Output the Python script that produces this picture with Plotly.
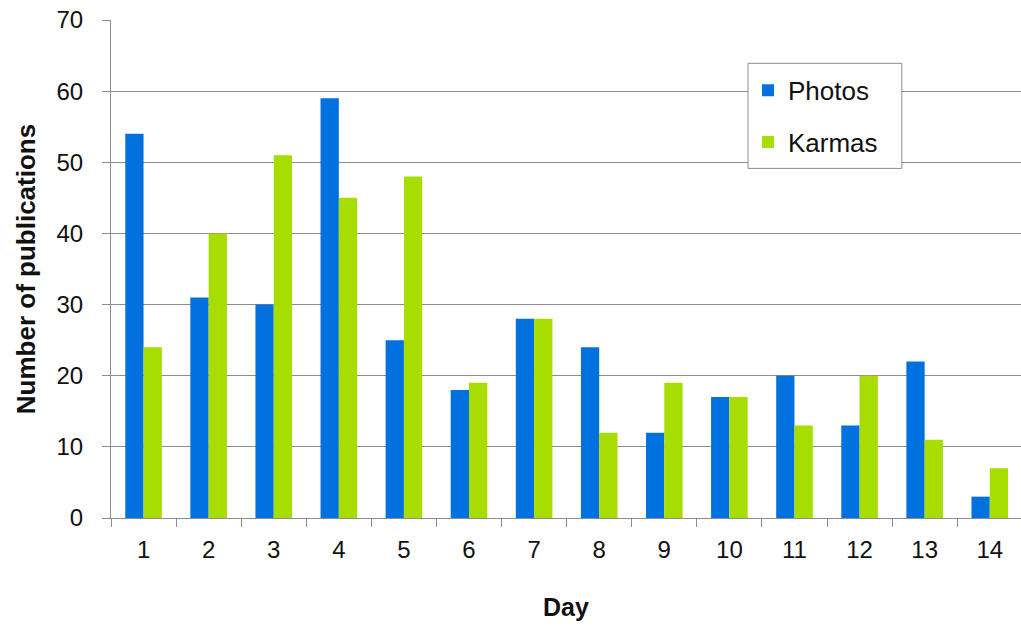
import plotly.graph_objects as go

# Publications per day for the two content types
days = [str(d) for d in range(1, 15)]
photos = [54, 31, 30, 59, 25, 18, 28, 24, 12, 17, 20, 13, 22, 3]
karmas = [24, 40, 51, 45, 48, 19, 28, 12, 19, 17, 13, 20, 11, 7]
y_ticks = [0, 10, 20, 30, 40, 50, 60, 70]

BLUE = "#0071DE"
GREEN = "#A7DD00"
GRID = "#8C8C8C"
FONT = "Liberation Sans, Arial, sans-serif"

fig = go.Figure()
fig.add_trace(go.Bar(x=days, y=photos, name="Photos", marker_color=BLUE,
                     marker_line_width=0, legendgroup="p"))
fig.add_trace(go.Bar(x=days, y=karmas, name="Karmas", marker_color=GREEN,
                     marker_line_width=0, legendgroup="k"))

# framed white panel behind the legend entries
fig.add_shape(type="rect", xref="paper", yref="paper",
              x0=0.700, x1=0.869, y0=0.702, y1=0.913,
              fillcolor="white", line=dict(color="#8C8C8C", width=1),
              layer="above")

fig.update_layout(
    width=1021, height=626,
    margin=dict(l=111, r=0, t=20, b=108),
    paper_bgcolor="white", plot_bgcolor="white",
    barmode="group", bargap=0.438, bargroupgap=0,
    font=dict(family=FONT, size=24, color="#111"),
    legend=dict(
        x=0.700, y=0.906, xanchor="left", yanchor="top",
        bgcolor="rgba(0,0,0,0)", borderwidth=0,
        font=dict(size=26, color="#111"),
        tracegroupgap=15, traceorder="grouped",
    ),
    xaxis=dict(
        type="category", range=[-0.5, 13.48],
        tickson="boundaries", ticks="outside", ticklen=8, tickcolor=GRID,
        showline=True, linecolor=GRID, linewidth=1.2,
        showgrid=False, ticklabelstandoff=10,
        tickfont=dict(size=24),
        title=dict(text="<b>Day</b>", font=dict(size=25), standoff=36),
    ),
    yaxis=dict(
        range=[0, 70], tickvals=y_ticks,
        ticks="outside", ticklen=8, tickcolor=GRID,
        showline=True, linecolor=GRID, linewidth=1.2,
        showgrid=True, gridcolor=GRID, gridwidth=1.2,
        zeroline=False, ticklabelstandoff=14,
        tickfont=dict(size=24),
        title=dict(text="<b>Number of publications</b>", font=dict(size=26), standoff=13),
    ),
)

fig.write_html("out.html")
